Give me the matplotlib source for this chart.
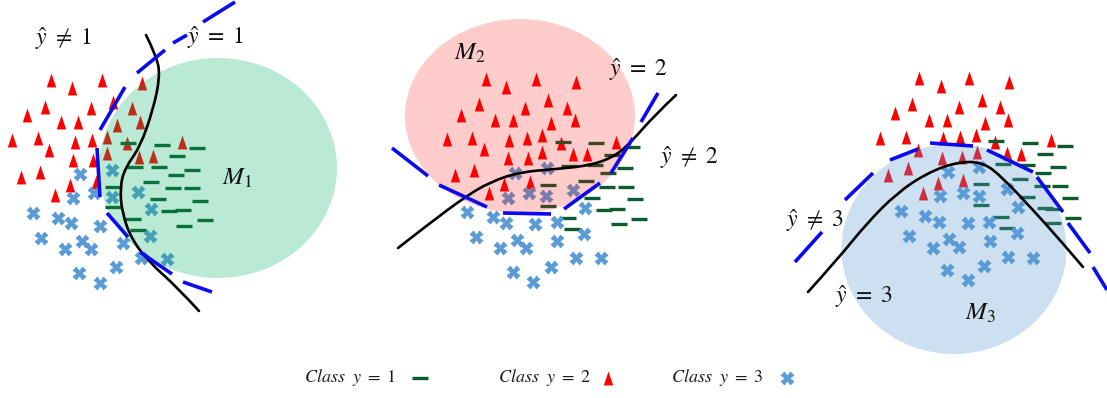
"""
Three one-vs-rest decision regions: classes, model ellipses and boundaries.
Coordinates are in picture pixels (x to the right, y downward).
"""

import matplotlib.pyplot as plt
from matplotlib.patches import Ellipse, PathPatch
from matplotlib.path import Path

plt.rcParams['mathtext.fontset'] = 'stix'

# ---- panel 1 -------------------------------------------------------------
p1_tri_x = [51, 72, 102, 142, 45, 27, 61, 78, 91, 113, 132, 117, 140, 12, 38, 49, 75, 92,
            107, 127, 182, 107, 139, 153, 73, 93, 21, 40, 70, 55, 96]
p1_tri_y = [80, 88, 80, 83, 107, 115, 122, 122, 108, 102, 108, 125, 122, 140, 138, 150, 142, 140,
            137, 143, 142, 153, 157, 156, 160, 160, 177, 172, 185, 195, 182]
p1_dash_x = [128, 162, 197, 177, 135, 159, 192, 176, 151, 113, 173, 192, 158, 200, 113, 169,
             183, 133, 205, 138, 184]
p1_dash_y = [143, 145, 148, 156, 167, 167, 170, 175, 182, 187, 188, 188, 199, 201, 207, 211,
             210, 219, 220, 230, 226]
p1_cross_x = [80, 112, 73, 94, 112, 138, 33, 58, 71, 100, 151, 41, 82, 65, 91, 123, 150, 141,
              167, 79, 116, 100]
p1_cross_y = [174, 170, 198, 193, 197, 192, 213, 218, 223, 226, 209, 238, 241, 249, 249, 243,
              236, 258, 259, 273, 267, 283]
p1_curve_x = [146, 157, 160, 153, 140, 125, 120, 122, 132, 150, 177, 199]
p1_curve_y = [35, 57, 77, 110, 147, 168, 187, 213, 240, 263, 287, 311]
p1_dash_segs = [((203, 235), (22, 2)), ((173, 187), (43, 35)), ((137, 165), (73, 50)),
                ((100, 125), (130, 87)), ((97, 100), (148, 197)), ((107, 128), (213, 237)),
                ((140, 172), (252, 274)), ((183, 212), (282, 292))]

# ---- panel 2 -------------------------------------------------------------
p2_tri_x = [486, 506, 536, 576, 479, 461, 495, 513, 525, 548, 567, 551, 575, 447, 472, 484,
            509, 527, 542, 561, 616, 508, 528, 542, 573, 587, 455, 474, 504, 530, 489]
p2_tri_y = [79, 87, 79, 82, 104, 115, 120, 120, 108, 100, 108, 123, 120, 139, 138, 149,
            140, 138, 135, 143, 142, 158, 158, 152, 154, 154, 175, 170, 184, 182, 193]
p2_dash_x = [563, 596, 632, 612, 569, 595, 625, 608, 548, 586, 607, 626, 548, 592, 635, 604,
             617, 568, 619, 639, 572]
p2_dash_y = [142, 143, 147, 155, 166, 165, 168, 173, 185, 181, 187, 187, 206, 198, 199, 210,
             209, 218, 224, 219, 229]
p2_cross_x = [515, 547, 529, 546, 573, 508, 467, 493, 506, 535, 557, 585, 476, 517, 526, 500,
              557, 584, 576, 601, 513, 551, 533]
p2_cross_y = [173, 168, 193, 196, 190, 198, 212, 217, 223, 224, 222, 208, 237, 240, 248, 248,
              241, 234, 258, 258, 272, 267, 282]
p2_curve_x = [398, 430, 465, 490, 520, 557, 593, 617, 633, 653, 676]
p2_curve_y = [248, 223, 197, 182, 172, 169, 165, 155, 140, 117, 95]
p2_dash_segs = [((392, 428), (148, 176)), ((439, 487), (185, 207)), ((503, 551), (213, 214)),
                ((564, 600), (209, 183)), ((611, 633), (173, 138)), ((641, 658), (122, 93))]

# ---- panel 3 -------------------------------------------------------------
p3_tri_x = [919, 941, 969, 1009, 912, 895, 929, 947, 959, 982, 1000, 985, 1008, 880, 906, 943,
            960, 976, 995, 1051, 918, 942, 962, 977, 1007, 1021, 888, 908, 938, 963, 923]
p3_tri_y = [78, 86, 78, 82, 104, 113, 120, 120, 107, 100, 107, 123, 120, 138, 137, 138,
            137, 135, 142, 140, 150, 158, 157, 152, 153, 154, 175, 168, 183, 180, 193]
p3_dash_x = [996, 1030, 1065, 1045, 1003, 1027, 1058, 1043, 981, 1020, 1042, 1060, 981, 1027,
             1070, 1045, 1053, 1001, 1073, 1053, 1007]
p3_dash_y = [141, 143, 146, 154, 164, 165, 167, 173, 184, 179, 186, 186, 205, 197, 198, 208,
             209, 217, 218, 223, 228]
p3_cross_x = [948, 979, 940, 963, 979, 1007, 901, 925, 939, 968, 989, 1018, 909, 949, 959, 933,
              990, 1017, 1008, 1033, 984, 947, 968]
p3_cross_y = [172, 167, 196, 193, 196, 189, 211, 216, 222, 223, 222, 207, 236, 239, 247, 248,
              241, 233, 257, 258, 266, 270, 280]
p3_curve_x = [808, 837, 867, 897, 927, 957, 983, 1003, 1033, 1060, 1083]
p3_curve_y = [292, 260, 223, 193, 173, 162, 162, 178, 210, 240, 267]
p3_dash_segs = [((795, 822), (262, 232)), ((845, 873), (200, 173)), ((890, 918), (160, 149)),
                ((930, 973), (143, 146)), ((987, 1033), (150, 172)), ((1037, 1063), (177, 212)),
                ((1068, 1090), (223, 253)), ((1093, 1107), (267, 290))]

# model regions: (centre x, centre y, width, height, colour, alpha)
regions = [
    (218, 168, 238, 220, '#00b064', 0.27),
    (520, 116, 230, 194, '#ff0000', 0.20),
    (954, 249, 225, 210, '#5b9bd5', 0.30),
]

labels = [
    (63, 39, r'$\hat{y}\ \neq\ 1$'), (215, 38, r'$\hat{y}\ =\ 1$'),
    (638, 70, r'$\hat{y}\ =\ 2$'), (689, 158, r'$\hat{y}\ \neq\ 2$'),
    (815, 221, r'$\hat{y}\ \neq\ 3$'), (864, 297, r'$\hat{y}\ =\ 3$'),
]
model_labels = [(237, 178, r'$M_1$'), (470, 53, r'$M_2$'), (980, 313, r'$M_3$')]

legend_text = [r'$Class\ \ y\ =\ 1$', r'$Class\ \ y\ =\ 2$', r'$Class\ \ y\ =\ 3$']
legend_text_x = [350, 545, 717]
legend_mark_x = [420, 608, 787]
legend_y = 378

TRI = [(-0.68, -1.0), (0.68, -1.0), (0.0, 1.0)]
RED = '#ff0000'
GREEN = '#0d5a2c'
BLUE = '#5b9bd5'


def smooth_path(xs, ys):
    """Quadratic B-spline path using the read points as control points."""
    pts = list(zip(xs, ys))
    verts = [pts[0]]
    codes = [Path.MOVETO]
    for i in range(1, len(pts) - 1):
        mid = ((pts[i][0] + pts[i + 1][0]) / 2, (pts[i][1] + pts[i + 1][1]) / 2)
        if i == len(pts) - 2:
            mid = pts[-1]
        verts += [pts[i], mid]
        codes += [Path.CURVE3, Path.CURVE3]
    return Path(verts, codes)


fig = plt.figure(figsize=(11.07, 3.98), dpi=100)
ax = fig.add_axes([0, 0, 1, 1])
ax.set_xlim(0, 1107)
ax.set_ylim(398, 0)
ax.axis('off')

panels = [
    (p1_tri_x, p1_tri_y, p1_dash_x, p1_dash_y, p1_cross_x, p1_cross_y, p1_curve_x, p1_curve_y, p1_dash_segs),
    (p2_tri_x, p2_tri_y, p2_dash_x, p2_dash_y, p2_cross_x, p2_cross_y, p2_curve_x, p2_curve_y, p2_dash_segs),
    (p3_tri_x, p3_tri_y, p3_dash_x, p3_dash_y, p3_cross_x, p3_cross_y, p3_curve_x, p3_curve_y, p3_dash_segs),
]

for (tx, ty, dx, dy, cx, cy, kx, ky, segs), (ex, ey, ew, eh, ec, ea) in zip(panels, regions):
    ax.plot(tx, ty, ls='none', marker=TRI, ms=10, mfc=RED, mec='none', zorder=2)
    ax.plot(dx, dy, ls='none', marker='_', ms=11, mew=2.4, color=GREEN, zorder=2)
    ax.plot(cx, cy, ls='none', marker='X', ms=9.5, mfc=BLUE, mec='none', zorder=2)
    # the model ellipse sits over the points, tinting what it covers
    ax.add_patch(Ellipse((ex, ey), ew, eh, facecolor=ec, edgecolor='none', alpha=ea, zorder=3))
    ax.add_patch(PathPatch(smooth_path(kx, ky), facecolor='none', edgecolor='black',
                           lw=1.9, capstyle='round', zorder=4))
    for sx, sy in segs:
        ax.plot(sx, sy, color='#0a0af0', lw=2.6, solid_capstyle='butt', zorder=5)

for x, y, s in labels:
    ax.text(x, y, s, fontsize=17, ha='center', va='center', color='#111111', zorder=6)
for x, y, s in model_labels:
    ax.text(x, y, s, fontsize=18, ha='center', va='center', color='#111111', zorder=6)

for x, s in zip(legend_text_x, legend_text):
    ax.text(x, legend_y, s, fontsize=13, ha='center', va='center', color='#1a1a1a')
ax.plot(legend_mark_x[0], legend_y, marker='_', ms=11, mew=2.4, color=GREEN)
ax.plot(legend_mark_x[1], legend_y, marker=TRI, ms=10, mfc=RED, mec='none')
ax.plot(legend_mark_x[2], legend_y, marker='X', ms=9.5, mfc=BLUE, mec='none')

fig.savefig('out.png', dpi=100)
